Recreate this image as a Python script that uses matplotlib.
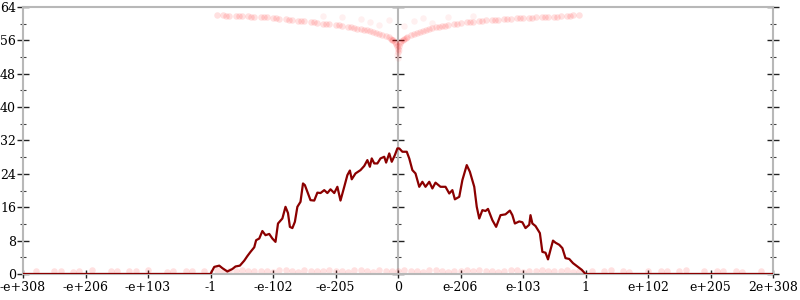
import matplotlib
matplotlib.use('Agg')
import matplotlib.pyplot as plt
from matplotlib.ticker import MultipleLocator, NullFormatter

# x positions are in "tick slots": -6 .. 6, one slot per label
tick_pos = [-6, -5, -4, -3, -2, -1, 0, 1, 2, 3, 4, 5, 6]
tick_labels = ['-e+308', '-e+206', '-e+103', '-1', '-e-102', '-e-205', '0',
               'e-206', 'e-103', '1', 'e+102', 'e+205', '2e+308']

# dark red trace
line_x = [-6.0, -3.0, -2.94, -2.86, -2.81, -2.73, -2.65, -2.60, -2.53, -2.46,
          -2.41, -2.36, -2.30, -2.27, -2.22, -2.17, -2.12, -2.06, -2.01, -1.96,
          -1.92, -1.85, -1.80, -1.76, -1.73, -1.69, -1.65, -1.61, -1.56, -1.52,
          -1.49, -1.45, -1.40, -1.34, -1.29, -1.24, -1.18, -1.13, -1.08, -1.02,
          -0.97, -0.92, -0.86, -0.81, -0.77, -0.74, -0.68, -0.60, -0.54, -0.49,
          -0.45, -0.42, -0.38, -0.33, -0.28, -0.22, -0.19, -0.14, -0.10, -0.05,
          -0.01, 0.02, 0.07, 0.14, 0.18, 0.23, 0.28, 0.34, 0.39, 0.44,
          0.50, 0.55, 0.60, 0.68, 0.76, 0.82, 0.87, 0.91, 0.98, 1.03,
          1.10, 1.15, 1.22, 1.26, 1.30, 1.35, 1.40, 1.44, 1.51, 1.57,
          1.64, 1.72, 1.79, 1.83, 1.87, 1.94, 1.99, 2.04, 2.10, 2.12,
          2.15, 2.20, 2.27, 2.31, 2.36, 2.40, 2.44, 2.48, 2.52, 2.58,
          2.63, 2.68, 2.74, 2.80, 2.87, 2.94, 3.0, 6.0]
line_y = [0, 0, 1.7, 2.0, 1.4, 0.6, 1.2, 1.8, 2.0, 3.2,
          4.3, 5.3, 6.4, 8.1, 8.5, 10.3, 9.3, 9.6, 8.5, 7.7,
          12.1, 13.3, 16.1, 14.6, 11.3, 11.0, 12.5, 16.1, 17.3, 21.7,
          21.3, 19.7, 17.7, 17.6, 19.5, 19.4, 20.1, 19.4, 20.3, 19.4,
          20.9, 17.6, 20.9, 23.7, 24.8, 22.7, 24.1, 24.9, 25.9, 27.3,
          25.7, 27.7, 26.5, 26.5, 27.7, 28.1, 26.7, 28.9, 26.9, 28.5,
          30.1, 30.1, 29.3, 29.3, 27.7, 24.9, 24.1, 20.9, 22.1, 20.9,
          22.1, 20.5, 21.9, 20.9, 20.9, 19.3, 20.1, 17.9, 18.5, 22.5,
          26.1, 24.5, 20.9, 16.1, 13.3, 15.3, 15.1, 15.6, 12.9, 11.3,
          14.1, 14.3, 15.2, 14.1, 12.1, 12.6, 12.4, 11.0, 11.8, 14.1,
          12.1, 11.5, 9.8, 5.3, 5.1, 3.5, 5.8, 8.0, 7.5, 7.0,
          6.2, 3.8, 3.6, 2.6, 1.8, 1.0, 0, 0]

# faint red dots, upper band
top_x = [-2.9, -2.8, -2.7, -2.6, -2.5, -2.4, -2.3, -2.2, -2.1, -2.0,
         -1.9, -1.8, -1.7, -1.6, -1.5, -1.4, -1.3, -1.2, -1.1, -1.0,
         -0.9, -0.8, -0.7, -0.6, -0.5, -0.4, -0.3, -0.25, -0.2, -0.15,
         -0.12, -0.08, -0.05, -0.03, -0.01, 0.0, 0.0, 0.01, 0.03, 0.05,
         0.08, 0.12, 0.15, 0.2, 0.25, 0.3, 0.4, 0.5, 0.6, 0.7,
         0.8, 0.9, 1.0, 1.1, 1.2, 1.3, 1.4, 1.5, 1.6, 1.7,
         1.8, 1.9, 2.0, 2.1, 2.2, 2.3, 2.4, 2.5, 2.6, 2.7,
         2.8, 2.9,
         -2.75, -2.55, -2.35, -2.15, -1.95, -1.75, -1.55, -1.35, -1.15, -0.95,
         -0.75, -0.65, -0.55, -0.45, -0.35, -0.1, 0.1, 0.35, 0.45, 0.55,
         0.65, 0.75, 0.95, 1.15, 1.35, 1.55, 1.75, 1.95, 2.15, 2.35,
         2.55, 2.75]
top_y = [62.0, 62.0, 61.9, 61.9, 61.8, 61.8, 61.7, 61.6, 61.5, 61.4,
         61.2, 61.1, 60.9, 60.7, 60.6, 60.4, 60.2, 60.0, 59.9, 59.7,
         59.5, 59.3, 59.0, 58.7, 58.4, 58.0, 57.5, 57.3, 57.0, 56.7,
         56.4, 56.0, 55.7, 55.2, 54.7, 54.0, 53.2, 54.7, 55.3, 55.8,
         56.2, 56.6, 56.9, 57.2, 57.5, 57.7, 58.3, 58.7, 59.1, 59.4,
         59.7, 59.9, 60.1, 60.3, 60.5, 60.7, 60.8, 60.9, 61.0, 61.1,
         61.2, 61.3, 61.3, 61.4, 61.5, 61.6, 61.7, 61.7, 61.8, 61.9,
         62.0, 62.0,
         61.9, 61.8, 61.7, 61.5, 61.3, 61.0, 60.6, 60.3, 59.9, 59.6,
         59.1, 58.8, 58.5, 58.2, 57.7, 56.2, 56.4, 58.0, 58.5, 58.9,
         59.2, 59.5, 60.0, 60.4, 60.7, 60.9, 61.1, 61.3, 61.4, 61.6,
         61.7, 61.8]
# scattered dots above the V
noise_x = [-1.2, -0.9, -0.6, -0.45, -0.3, -0.15, 0.1, 0.25, 0.4, 0.55, 0.8, 1.2,
           -0.02, 0.02, 0.0]
noise_y = [61.8, 61.5, 61.2, 60.3, 59.6, 60.8, 59.4, 60.6, 61.3, 60.2, 61.6, 61.9,
           52.5, 53.8, 51.8]

# faint red dots, lower band
bot_x = [-5.8, -5.5, -5.2, -4.9, -4.6, -4.3, -4.0, -3.7, -3.4, -3.1,
         -2.9, -2.7, -2.5, -2.3, -2.1, -1.9, -1.7, -1.5, -1.3, -1.1,
         -0.9, -0.7, -0.5, -0.3, -0.1, 0.1, 0.3, 0.5, 0.7, 0.9,
         1.1, 1.3, 1.5, 1.7, 1.9, 2.1, 2.3, 2.5, 2.7, 2.9,
         3.1, 3.4, 3.7, 4.0, 4.3, 4.6, 4.9, 5.2, 5.5, 5.8,
         -2.8, -2.4, -2.0, -1.6, -1.2, -0.8, -0.4, 0.0, 0.4, 0.8,
         1.2, 1.6, 2.0, 2.4, 2.8, -3.6, -4.5, -5.4, 3.6, 4.5, 5.4,
         -2.6, -2.2, -1.8, -1.4, -1.0, -0.6, -0.2, 0.2, 0.6, 1.0,
         1.4, 1.8, 2.2, 2.6, -3.3, -4.2, -5.1, 3.3, 4.2, 5.1]
bot_y = [0.6, 0.8, 0.5, 0.9, 0.6, 0.7, 0.9, 0.5, 0.8, 0.6,
         0.9, 0.7, 1.0, 0.6, 0.8, 1.0, 0.7, 0.9, 0.6, 1.0,
         0.8, 0.9, 0.6, 1.0, 0.8, 0.9, 0.7, 1.0, 0.8, 0.6,
         0.9, 1.0, 0.7, 0.8, 1.0, 0.6, 0.9, 0.8, 1.0, 0.7,
         0.6, 0.9, 0.5, 0.8, 0.7, 0.9, 0.6, 0.8, 0.5, 0.7,
         0.4, 0.6, 0.5, 0.4, 0.6, 0.5, 0.4, 0.6, 0.5, 0.4,
         0.6, 0.5, 0.4, 0.6, 0.5, 0.7, 0.6, 0.8, 0.7, 0.6, 0.8,
         0.8, 0.7, 0.9, 0.8, 0.7, 0.9, 0.8, 0.7, 0.9, 0.8,
         0.7, 0.9, 0.8, 0.7, 0.8, 0.6, 0.7, 0.6, 0.8, 0.7]

plt.rcParams['font.family'] = ['DejaVu Serif']
fig = plt.figure(figsize=(8, 3), dpi=100)
ax = fig.add_axes([0.02875, 0.0867, 0.9375, 0.89])

ax.scatter(top_x, top_y, s=22, color='red', alpha=0.12, linewidths=0, zorder=2)
ax.scatter(noise_x, noise_y, s=22, color='red', alpha=0.06, linewidths=0, zorder=2)
ax.scatter(bot_x, bot_y, s=22, color='red', alpha=0.12, linewidths=0, zorder=2)
ax.plot(line_x, line_y, color='#8b0000', lw=1.6, zorder=3)

ax.set_xlim(-6, 6)
ax.set_ylim(0, 64)
ax.set_xticks(tick_pos)
ax.set_xticklabels(tick_labels)
ax.yaxis.set_major_locator(MultipleLocator(8))
ax.yaxis.set_minor_locator(MultipleLocator(4))

for side in ['left', 'right', 'top', 'bottom']:
    ax.spines[side].set_color('#b8b8b8')
    ax.spines[side].set_linewidth(1.5)

ax.tick_params(axis='y', which='major', direction='inout', length=8, width=1,
               color='#222222', right=True, labelsize=9, pad=1)
ax.tick_params(axis='y', which='minor', direction='inout', length=4.5, width=0.8,
               color='#444444', right=True)
ax.tick_params(axis='x', which='major', direction='inout', length=6, width=1,
               color='#222222', labelsize=9, pad=2)

# vertical axis through zero
mid = ax.secondary_yaxis(0.5)
for s in mid.spines.values():
    s.set_color('#b8b8b8')
    s.set_linewidth(1.5)
mid.yaxis.set_major_locator(MultipleLocator(8))
mid.yaxis.set_minor_locator(MultipleLocator(4))
mid.yaxis.set_major_formatter(NullFormatter())
mid.tick_params(which='major', direction='inout', length=8, width=1,
                color='#222222')
mid.tick_params(which='minor', direction='inout', length=4.5, width=0.8,
                color='#444444')

fig.savefig('out.png', dpi=100)
